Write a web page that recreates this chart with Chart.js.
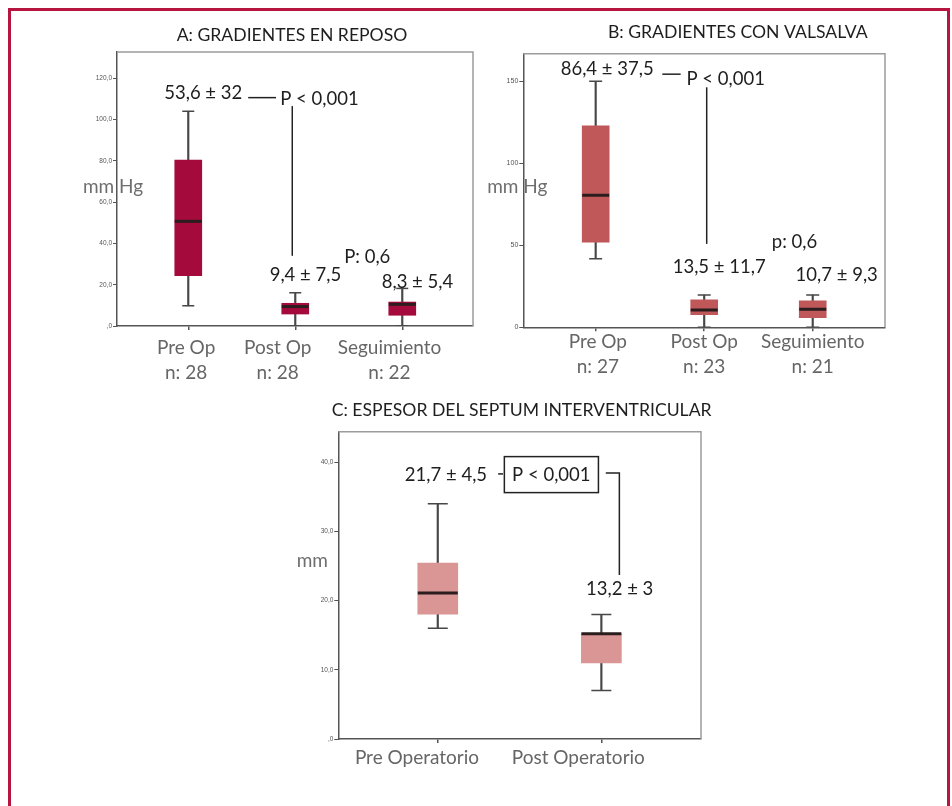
<!DOCTYPE html>
<html lang="es">
<head>
<meta charset="utf-8">
<title>Gradientes y septum</title>
<script src="https://cdn.jsdelivr.net/npm/chart.js@4.4.1/dist/chart.umd.min.js"></script>
<style>
    html, body { margin: 0; padding: 0; background: #fff; }
    body { width: 952px; height: 806px; position: relative; overflow: hidden; }
    .frame { position: absolute; left: 8px; top: 8px; width: 936px; height: 900px; border: 3px solid #b5153f; }
    canvas { position: absolute; left: 0; top: 0; }
</style>
</head>
<body>
<div class="frame"></div>
<canvas id="chart-reposo" width="952" height="806"></canvas>
<canvas id="chart-valsalva" width="952" height="806"></canvas>
<canvas id="chart-septum" width="952" height="806"></canvas>
<script>
// categorias
const GRUPOS = ['Pre Op', 'Post Op', 'Seguimiento'];
const GRUPOS_SEPTUM = ['Pre Operatorio', 'Post Operatorio'];
const N_REPOSO = [28, 28, 22];
const N_VALSALVA = [27, 23, 21];

// A: gradientes en reposo (mm Hg)
const REPOSO_MIN = [9.8, 0, 0];
const REPOSO_Q1 = [24.4, 5.8, 5.2];
const REPOSO_MED = [50.7, 9.4, 10.5];
const REPOSO_Q3 = [80.3, 11.0, 11.6];
const REPOSO_MAX = [104, 16.1, 18.2];
const REPOSO_MEDIA = ['53,6 ± 32', '9,4 ± 7,5', '8,3 ± 5,4'];
const REPOSO_P = ['P < 0,001', 'P: 0,6'];
const REPOSO_TICKS = [0, 20, 40, 60, 80, 100, 120];

// B: gradientes con valsalva (mm Hg)
const VALSALVA_MIN = [41.9, 0, 0];
const VALSALVA_Q1 = [52, 7.7, 5.9];
const VALSALVA_MED = [80.6, 10.6, 11];
const VALSALVA_Q3 = [122.9, 16.7, 16.1];
const VALSALVA_MAX = [150.2, 19.7, 19.7];
const VALSALVA_MEDIA = ['86,4 ± 37,5', '13,5 ± 11,7', '10,7 ± 9,3'];
const VALSALVA_P = ['P < 0,001', 'p: 0,6'];
const VALSALVA_TICKS = [0, 50, 100, 150];

// C: espesor del septum (mm)
const SEPTUM_MIN = [16, 7];
const SEPTUM_Q1 = [18.05, 11];
const SEPTUM_MED = [21.1, 15.2];
const SEPTUM_Q3 = [25.4, 15.2];
const SEPTUM_MAX = [34, 18];
const SEPTUM_MEDIA = ['21,7 ± 4,5', '13,2 ± 3'];
const SEPTUM_P = 'P < 0,001';
const SEPTUM_TICKS = [0, 10, 20, 30, 40];

const FONT = 'Lato';
const INK = '#1e1e1e';
const AXIS = '#555';
const Y_AXIS_W = 30;

const spssFmt = (v) => (v === 0 ? ',0' : v.toFixed(1).replace('.', ','));

// titulo, unidad, textos y lineas de cada panel
function decor(look) {
    return {
        id: 'decor',
        beforeDatasetsDraw(chart) {
            const { ctx, chartArea: a } = chart;
            ctx.save();
            ctx.strokeStyle = '#9c9c9c';
            ctx.lineWidth = 1.5;
            ctx.beginPath();
            ctx.moveTo(a.left, a.top);
            ctx.lineTo(a.right, a.top);
            ctx.lineTo(a.right, a.bottom);
            ctx.stroke();
            ctx.restore();
        },
        afterDraw(chart) {
            const { ctx, chartArea: a, scales: { x, y } } = chart;
            const px = (p) => [x.getPixelForValue(p[0]), y.getPixelForValue(p[1])];
            ctx.save();
            ctx.textAlign = 'center';
            ctx.textBaseline = 'middle';

            ctx.font = `17.6px ${FONT}`;
            ctx.fillStyle = INK;
            ctx.fillText(look.title, (a.left + a.right) / 2 + look.titleDx, a.top + look.titleDy);

            ctx.font = `19px ${FONT}`;
            ctx.fillStyle = '#6e6e6e';
            ctx.fillText(look.unit, a.left + look.unitDx, y.getPixelForValue(look.unitAt));

            ctx.font = `18.5px ${FONT}`;
            ctx.fillStyle = INK;
            look.notes.forEach(([text, vx, vy]) => {
                const [cx, cy] = px([vx, vy]);
                ctx.fillText(text, cx, cy);
            });

            ctx.strokeStyle = '#222';
            ctx.lineWidth = 1.5;
            look.lines.forEach((pts) => {
                ctx.beginPath();
                pts.forEach((p, k) => {
                    const [cx, cy] = px(p);
                    if (k) ctx.lineTo(cx, cy); else ctx.moveTo(cx, cy);
                });
                ctx.stroke();
            });
            (look.boxes || []).forEach(([x0, y0, x1, y1]) => {
                const [l, t] = px([x0, y0]);
                const [r, b] = px([x1, y1]);
                ctx.strokeRect(l, t, r - l, b - t);
            });
            ctx.restore();
        },
    };
}

function renderBoxplot(id, st, look) {
    const idx = st.labels.map((_, i) => i);

    new Chart(document.getElementById(id), {
        type: 'bar',
        data: {
            datasets: [
                {
                    type: 'bar',
                    data: idx.map((i) => ({ x: i, y: [st.min[i], st.max[i]] })),
                    backgroundColor: '#474747',
                    barThickness: 1.5,
                    grouped: false,
                    order: 3,
                },
                {
                    type: 'bar',
                    data: idx.map((i) => ({ x: i, y: [st.q1[i], st.q3[i]] })),
                    backgroundColor: look.color,
                    barThickness: look.boxW,
                    grouped: false,
                    order: 2,
                },
                {
                    type: 'scatter',
                    data: idx.map((i) => ({ x: i, y: st.med[i] })),
                    pointStyle: 'line',
                    pointRadius: look.boxW / 2,
                    pointBorderColor: '#2b1d1d',
                    pointBorderWidth: 3,
                    order: 1,
                },
                {
                    type: 'scatter',
                    data: idx.flatMap((i) => [{ x: i, y: st.min[i] }, { x: i, y: st.max[i] }]),
                    pointStyle: 'line',
                    pointRadius: look.capW / 2,
                    pointBorderColor: '#474747',
                    pointBorderWidth: 1.5,
                    order: 1,
                },
            ],
        },
        options: {
            responsive: false,
            animation: false,
            devicePixelRatio: 1,
            events: [],
            layout: { padding: look.padding },
            plugins: { legend: { display: false }, tooltip: { enabled: false }, title: { display: false } },
            scales: {
                x: {
                    type: 'linear',
                    min: look.xMin,
                    max: look.xMax,
                    offset: false,
                    bounds: 'data',
                    afterBuildTicks: (s) => { s.ticks = idx.map((v) => ({ value: v })); },
                    afterFit: (s) => { s.height = 0; },
                    grid: { drawOnChartArea: false, offset: false, tickLength: 4, color: AXIS, lineWidth: 1.5 },
                    border: { color: AXIS, width: 1.5 },
                    ticks: { display: false },
                },
                // rotulos de grupo, algo desplazados como en el original
                xl: {
                    type: 'linear',
                    position: 'bottom',
                    weight: 1,
                    min: look.xMin,
                    max: look.xMax,
                    offset: false,
                    bounds: 'data',
                    afterBuildTicks: (s) => { s.ticks = idx.map((v) => ({ value: v + look.labelShift[v] })); },
                    afterFit: (s) => { s.height = look.xH; },
                    grid: { display: false, offset: false },
                    border: { display: false },
                    ticks: {
                        autoSkip: false,
                        maxRotation: 0,
                        padding: look.xPad,
                        color: '#666',
                        font: { family: FONT, size: 19, lineHeight: 25 / 19 },
                        callback: (v, k) => st.label(k),
                    },
                },
                y: {
                    type: 'linear',
                    min: 0,
                    max: look.yMax,
                    afterBuildTicks: (s) => { s.ticks = st.ticks.map((v) => ({ value: v })); },
                    afterFit: (s) => { s.width = Y_AXIS_W; },
                    grid: { drawOnChartArea: false, tickLength: 4, color: AXIS, lineWidth: 1 },
                    border: { color: AXIS, width: 1.5 },
                    ticks: {
                        padding: 1,
                        color: '#555',
                        font: { family: 'Liberation Sans', size: look.tickSize },
                        callback: st.fmt,
                    },
                },
            },
        },
        plugins: [decor(look)],
    });
}

renderBoxplot('chart-reposo', {
    labels: GRUPOS,
    min: REPOSO_MIN, q1: REPOSO_Q1, med: REPOSO_MED, q3: REPOSO_Q3, max: REPOSO_MAX,
    ticks: REPOSO_TICKS,
    fmt: spssFmt,
    label: (k) => [GRUPOS[k], `n: ${N_REPOSO[k]}`],
}, {
    title: 'A: GRADIENTES EN REPOSO', titleDx: -3, titleDy: -17,
    unit: 'mm Hg', unitDx: -4, unitAt: 67.3,
    color: '#a50a3c', boxW: 27, capW: 12,
    xMin: -0.666, xMax: 2.661, yMax: 132.7,
    padding: { left: 117 - Y_AXIS_W, right: 479, top: 52, bottom: 420 },
    xH: 60, xPad: 1.2, tickSize: 6.5,
    labelShift: [-0.02, -0.164, -0.12],
    notes: [
        [REPOSO_MEDIA[0], 0.14, 112.7],
        [REPOSO_P[0], 1.226, 109.8],
        [REPOSO_MEDIA[1], 1.095, 24.7],
        [REPOSO_P[1], 1.673, 33.6],
        [REPOSO_MEDIA[2], 2.142, 21.5],
    ],
    lines: [
        [[0.56, 110.6], [0.82, 110.6]],
        [[0.972, 106.5], [0.972, 34]],
    ],
});

renderBoxplot('chart-valsalva', {
    labels: GRUPOS,
    min: VALSALVA_MIN, q1: VALSALVA_Q1, med: VALSALVA_MED, q3: VALSALVA_Q3, max: VALSALVA_MAX,
    ticks: VALSALVA_TICKS,
    fmt: (v) => String(v),
    label: (k) => [GRUPOS[k], `n: ${N_VALSALVA[k]}`],
}, {
    title: 'B: GRADIENTES CON VALSALVA', titleDx: 33.6, titleDy: -21.4,
    unit: 'mm Hg', unitDx: -6, unitAt: 85.6,
    color: '#c0585a', boxW: 27, capW: 13,
    xMin: -0.667, xMax: 2.666, yMax: 167,
    padding: { left: 523.3 - Y_AXIS_W, right: 67, top: 53.7, bottom: 418.7 },
    xH: 60, xPad: -6.1, tickSize: 7,
    labelShift: [0.02, 0, 0],
    notes: [
        [VALSALVA_MEDIA[0], 0.106, 157.7],
        [VALSALVA_P[0], 1.198, 151.6],
        [VALSALVA_MEDIA[1], 1.138, 36.6],
        [VALSALVA_P[1], 1.832, 52.3],
        [VALSALVA_MEDIA[2], 2.221, 31.9],
    ],
    lines: [
        [[0.614, 154.5], [0.783, 154.5]],
        [[1.023, 146.5], [1.023, 50.9]],
    ],
});

renderBoxplot('chart-septum', {
    labels: GRUPOS_SEPTUM,
    min: SEPTUM_MIN, q1: SEPTUM_Q1, med: SEPTUM_MED, q3: SEPTUM_Q3, max: SEPTUM_MAX,
    ticks: SEPTUM_TICKS,
    fmt: spssFmt,
    label: (k) => GRUPOS_SEPTUM[k],
}, {
    title: 'C: ESPESOR DEL SEPTUM INTERVENTRICULAR', titleDx: 2, titleDy: -21.7,
    unit: 'mm', unitDx: -26, unitAt: 25.8,
    color: '#d99694', boxW: 40, capW: 20,
    xMin: -0.608, xMax: 1.609, yMax: 44.4,
    padding: { left: 338.3 - Y_AXIS_W, right: 251, top: 431.7, bottom: 27 },
    xH: 40, xPad: -1.5, tickSize: 6.5,
    labelShift: [-0.127, -0.141],
    notes: [
        [SEPTUM_MEDIA[0], 0.05, 38.2],
        [SEPTUM_P, 0.694, 38.2],
        [SEPTUM_MEDIA[1], 1.112, 21.7],
    ],
    lines: [
        [[0.369, 38.3], [0.399, 38.3]],
        [[1.027, 38.45], [1.11, 38.45], [1.11, 23.7]],
    ],
    boxes: [[0.407, 40.8, 0.982, 35.6]],
});
</script>
</body>
</html>
